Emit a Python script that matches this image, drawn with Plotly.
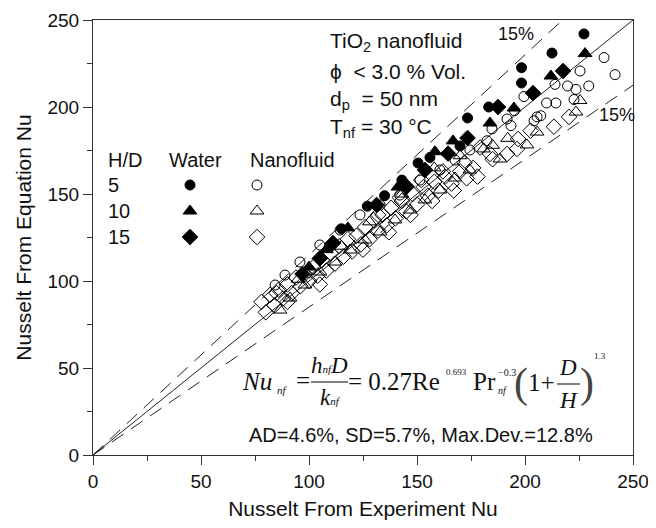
import plotly.graph_objects as go

# ---------------- data ----------------
water_hd5_x = [227.3, 212.5, 198.4, 198.4, 183.2, 173.4, 169.9, 150.5, 156.0, 143.0, 135.0, 127.0, 115.0]
water_hd5_y = [242.0, 231.0, 222.6, 213.8, 200.0, 193.7, 177.6, 167.8, 171.0, 158.0, 149.0, 143.0, 130.0]

water_hd10_x = [227.8, 212.0, 194.9, 183.8, 166.7, 158.3, 141.2, 118.0, 108.0, 100.0]
water_hd10_y = [230.7, 217.8, 199.4, 190.8, 180.5, 174.3, 154.0, 130.5, 118.0, 108.0]

water_hd15_x = [217.6, 203.7, 187.5, 173.4, 164.4, 153.7, 145.2, 131.3, 111.1, 105.0, 97.0]
water_hd15_y = [220.7, 208.0, 200.0, 182.2, 173.2, 163.8, 154.2, 143.7, 121.8, 113.0, 104.0]

nano_hd5_x = [236.6, 241.7, 225.5, 213.9, 219.7, 223.6, 229.5, 210.0, 214.3, 222.7, 199.5, 191.7,
              193.5, 205.6, 207.3, 204.2, 184.7, 182.4, 195.1, 174.5, 167.6, 160.6, 151.4, 142.0,
              132.9, 123.6, 114.4, 105.0, 95.8, 88.9, 84.3]
nano_hd5_y = [228.4, 218.6, 220.7, 213.0, 212.1, 210.1, 212.1, 202.3, 202.3, 204.3, 206.0, 193.1,
              189.3, 194.3, 195.0, 192.1, 187.4, 180.6, 197.9, 175.3, 169.5, 163.8, 158.0, 149.4,
              143.7, 138.0, 129.3, 120.7, 110.9, 103.4, 97.7]

nano_hd10_x = [225.5, 223.6, 205.6, 188.4, 200.9, 180.8, 174.5, 167.6, 160.6, 153.7, 146.8, 139.8,
               132.9, 125.9, 119.0, 112.0, 105.1, 98.1, 91.2, 86.6,
               128.0, 143.0, 158.0, 170.0, 115.0, 95.0, 185.0, 192.0]
nano_hd10_y = [203.7, 197.1, 185.6, 170.1, 178.2, 175.9, 163.8, 159.2, 152.3, 146.6, 140.8, 135.1,
               128.2, 123.6, 117.8, 110.9, 105.2, 97.7, 90.2, 83.3,
               134.0, 150.0, 165.0, 172.0, 120.0, 101.0, 178.0, 182.0]

nano_hd15_x = [213.4, 220.4, 196.8, 202.6, 191.7, 183.8, 179.2, 196.3,
               78, 80, 82, 84, 86, 88, 90, 92, 94, 96, 98, 100, 102, 104, 106, 108, 110, 112,
               114, 116, 118, 120, 122, 124, 126, 128, 130, 132, 134, 136, 138, 140, 143, 145,
               148, 150, 153, 155, 158, 160, 163, 166, 170, 173, 176,
               125, 132, 137, 142, 147, 152, 157, 162, 167, 172, 178, 185, 100, 105, 90, 85]
nano_hd15_y = [188.7, 194.3, 181.6, 186.4, 173.0, 173.0, 176.7, 175.9,
               88, 82, 92, 86, 95, 90, 98, 93, 102, 97, 104, 100, 108, 103, 112, 106, 116, 110,
               120, 114, 124, 117, 126, 121, 131, 124, 135, 129, 138, 132, 142, 136, 146, 140,
               150, 144, 154, 149, 157, 152, 160, 156, 163, 159, 165,
               118, 138, 128, 148, 138, 158, 146, 163, 152, 168, 160, 170, 106, 98, 88, 93]

ref_factors = [1.0, 1.15, 0.85]      # y = x and the +/-15 % bands
axis_max = 250
tick_vals = [0, 50, 100, 150, 200, 250]

legend_rows = ["5", "10", "15"]

# ---------------- figure ----------------
FONT = "Liberation Sans, Arial, sans-serif"
SERIF = "Liberation Serif, Times New Roman, serif"
OFF = 8                      # default page body margin of the html page
W, H = 656 - OFF, 528 - OFF
PL, PR, PT, PB = 93, 633, 20, 455     # plot box in screen pixels
L, T = PL - OFF, PT - OFF
R, B = W - (PR - OFF), H - (PB - OFF)
PW, PH = PR - PL, PB - PT


def P(px, py):
    return (px - PL) / PW, (PB - py) / PH


fig = go.Figure()

# reference lines
for f, dash in zip(ref_factors, ["solid", "14px,9px", "14px,9px"]):
    xe = min(axis_max, axis_max / f)
    fig.add_trace(go.Scatter(x=[0, xe], y=[0, xe * f], mode="lines",
                             line=dict(color="#222", width=1, dash=dash),
                             showlegend=False, hoverinfo="skip"))

series = [
    (nano_hd15_x, nano_hd15_y, "diamond-open", 12),
    (nano_hd10_x, nano_hd10_y, "triangle-up-open", 12),
    (nano_hd5_x, nano_hd5_y, "circle-open", 10),
    (water_hd15_x, water_hd15_y, "diamond", 12),
    (water_hd10_x, water_hd10_y, "triangle-up", 12),
    (water_hd5_x, water_hd5_y, "circle", 10),
]
for xs, ys, sym, sz in series:
    fig.add_trace(go.Scatter(x=xs, y=ys, mode="markers",
                             marker=dict(symbol=sym, size=sz, color="black",
                                         line=dict(color="black", width=1)),
                             showlegend=False))

# legend table (markers)
row_py = [185, 211, 237]
water_syms = ["circle", "triangle-up", "diamond"]
nano_syms = ["circle-open", "triangle-up-open", "diamond-open"]
for i, lab in enumerate(legend_rows):
    for px, sym in ((190, water_syms[i]), (257, nano_syms[i])):
        xp, yp = P(px, row_py[i])
        fig.add_trace(go.Scatter(x=[xp * axis_max], y=[yp * axis_max], mode="markers",
                                 marker=dict(symbol=sym, size=12 if i else 10, color="black",
                                             line=dict(color="black", width=1)),
                                 showlegend=False, hoverinfo="skip"))

ann = []


def txt(px, py, text, size=17, anchor="left", family=FONT, yanchor="middle", color="#111"):
    xp, yp = P(px, py)
    ann.append(dict(x=xp, y=yp, xref="paper", yref="paper", text=text, showarrow=False,
                    xanchor=anchor, yanchor=yanchor,
                    font=dict(family=family, size=size, color=color)))


# legend table text
txt(106, 160, "H/D", 20)
txt(167, 160, "Water", 20)
txt(248, 160, "Nanofluid", 20)
for i, lab in enumerate(legend_rows):
    txt(106, row_py[i], lab, 20)

# condition block
txt(328, 42, "TiO<sub>2</sub> nanofluid", 21)
txt(328, 71, "ϕ  &lt; 3.0 % Vol.", 21)
txt(328, 100, "d<sub>p</sub>  = 50 nm", 21)
txt(328, 128, "T<sub>nf</sub> = 30 °C", 21)

# 15 % labels
txt(516, 34, "15%", 18, "center")
txt(617, 115, "15%", 18, "center")

# equation pieces
txt(240, 381, "<i>Nu</i>", 25, family=SERIF)
txt(275, 390, "<i>nf</i>", 11, family=SERIF)
txt(303, 380, "=", 25, "center", SERIF)
txt(329, 365, "<i>h</i><span style='font-size:11px'><i>nf</i></span><i>D</i>", 23, "center", SERIF)
txt(330, 397, "<i>k</i><span style='font-size:11px'><i>nf</i></span>", 23, "center", SERIF)
txt(346, 381, "= 0.27Re", 25, family=SERIF)
txt(444, 372, "0.693", 9, family=SERIF)
txt(471, 381, "Pr", 25, family=SERIF)
txt(496, 372, "−0.3", 10, family=SERIF)
txt(496, 390, "<i>nf</i>", 10, family=SERIF)
txt(521, 383, "(", 42, "center", SERIF, color="#444")
txt(526, 382, "1+", 25, family=SERIF)
txt(568, 367, "<i>D</i>", 23, "center", SERIF)
txt(568, 400, "<i>H</i>", 23, "center", SERIF)
txt(587, 383, ")", 42, "center", SERIF, color="#444")
txt(592, 356, "1.3", 9, family=SERIF)

txt(421, 435, "AD=4.6%, SD=5.7%, Max.Dev.=12.8%", 20, "center")

shapes = []
for x0, x1, y in ((311, 348, 382), (557, 580, 384)):
    a0, b0 = P(x0, y)
    a1, _ = P(x1, y)
    shapes.append(dict(type="line", xref="paper", yref="paper", x0=a0, x1=a1, y0=b0, y1=b0,
                       line=dict(color="black", width=1)))

axis_common = dict(range=[0, axis_max], tickvals=tick_vals, showgrid=False, zeroline=False,
                   showline=True, mirror=True, linecolor="#333", linewidth=1,
                   ticks="outside", ticklen=9, tickcolor="#333", automargin=False,
                   minor=dict(dtick=25, ticks="outside", ticklen=5, tickcolor="#333"),
                   tickfont=dict(family=FONT, size=19, color="#111"))

fig.update_layout(
    width=W, height=H, margin=dict(l=L, r=R, t=T, b=B),
    plot_bgcolor="white", paper_bgcolor="white",
    xaxis=dict(**axis_common, title=dict(text="Nusselt From Experiment Nu",
                                         font=dict(family=FONT, size=21, color="#111"), standoff=10)),
    yaxis=dict(**axis_common, title=dict(text="Nusselt From Equation Nu",
                                         font=dict(family=FONT, size=21, color="#111"), standoff=10)),
    annotations=ann, shapes=shapes, showlegend=False,
)

fig.write_html("out.html")
